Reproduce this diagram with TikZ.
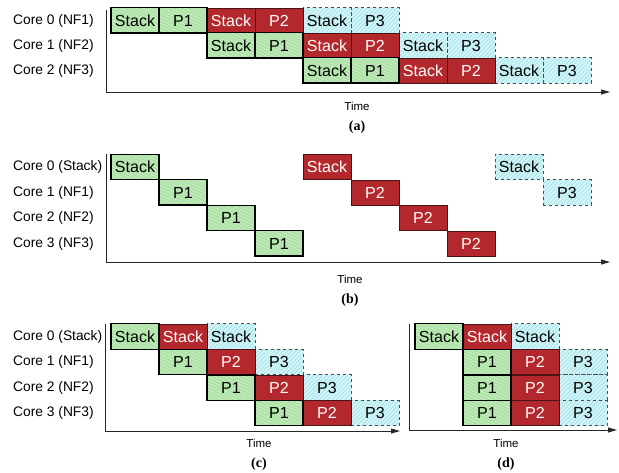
\documentclass[tikz,border=0pt]{standalone}
\usepackage{fontspec}
\setmainfont{Liberation Sans}
\newfontfamily\capfont{Liberation Serif}
\usetikzlibrary{arrows.meta,patterns.meta}
\definecolor{grfill}{HTML}{BCEAB4}
\definecolor{grhatch}{HTML}{A3D89E}
\definecolor{rdfill}{HTML}{B3282D}
\definecolor{rdline}{HTML}{4A1414}
\definecolor{cyfill}{HTML}{CFF6F8}
\definecolor{cyhatch}{HTML}{A6DCE6}
\tikzset{
  box/.style={minimum width=48pt,minimum height=25.3pt,inner sep=0pt,
    font=\fontsize{16}{16}\selectfont},
  gbox/.style={box,preaction={fill=grfill},draw=black,line width=1.3pt,
    pattern={Lines[angle=-25,distance=3pt,line width=0.6pt]},pattern color=grhatch},
  rbox/.style={box,draw=rdline,line width=0.6pt,fill=rdfill,text=white},
  cbox/.style={box,preaction={fill=cyfill},draw=black!70,dashed,line width=0.8pt,
    pattern={Lines[angle=45,distance=3pt,line width=0.6pt]},pattern color=cyhatch},
  corelab/.style={anchor=west,inner sep=0pt,font=\fontsize{13.8}{14}\selectfont},
  timelab/.style={inner sep=0pt,font=\fontsize{11.5}{12}\selectfont},
  panlab/.style={inner sep=0pt,font=\capfont\bfseries\fontsize{14}{14}\selectfont},
  axis/.style={line width=0.9pt,draw=black!85},
  axarrow/.style={axis,-{Triangle[length=9pt,width=5pt]}}
}
\begin{document}
\begin{tikzpicture}[x=1pt,y=-1pt]
\useasboundingbox (0,0) rectangle (619,473);
% ---------- (a) ----------
\node[corelab] (la0) at (13,20.5) {Core 0 (NF1)};
\node[corelab] (la1) at (13,45.5) {Core 1 (NF2)};
\node[corelab] (la2) at (13,70.5) {Core 2 (NF3)};
\coordinate (aT) at (106,10);
\coordinate (aO) at (106,92);
\coordinate (aE) at (610,92);
\draw[axis] (aT) -- (aO);
\draw[axarrow] (aO) -- (aE);
\node[cbox] (a05) at (375,20.5) {P3};
\node[cbox] (a04) at (327,20.5) {Stack};
\node[cbox] (a15) at (471,45.5) {P3};
\node[cbox] (a14) at (423,45.5) {Stack};
\node[cbox] (a25) at (567,70.5) {P3};
\node[cbox] (a24) at (519,70.5) {Stack};
\node[rbox] (a02) at (231,20.5) {Stack};
\node[rbox] (a03) at (279,20.5) {P2};
\node[rbox] (a12) at (327,45.5) {Stack};
\node[rbox] (a13) at (375,45.5) {P2};
\node[rbox] (a22) at (423,70.5) {Stack};
\node[rbox] (a23) at (471,70.5) {P2};
\node[gbox] (a00) at (135,20.5) {Stack};
\node[gbox] (a01) at (183,20.5) {P1};
\node[gbox] (a10) at (231,45.5) {Stack};
\node[gbox] (a11) at (279,45.5) {P1};
\node[gbox] (a20) at (327,70.5) {Stack};
\node[gbox] (a21) at (375,70.5) {P1};
\node[timelab] (ta) at (357,106) {Time};
\node[panlab] (pa) at (357,127) {(a)};
% ---------- (b) ----------
\node[corelab] (lb0) at (13,167) {Core 0 (Stack)};
\node[corelab] (lb1) at (13,192.5) {Core 1 (NF1)};
\node[corelab] (lb2) at (13,218) {Core 2 (NF2)};
\node[corelab] (lb3) at (13,243.5) {Core 3 (NF3)};
\coordinate (bT) at (106,154);
\coordinate (bO) at (106,262);
\coordinate (bE) at (610,262);
\draw[axis] (bT) -- (bO);
\draw[axarrow] (bO) -- (bE);
\node[cbox] (b08) at (519,167) {Stack};
\node[cbox] (b19) at (567,192.5) {P3};
\node[rbox] (b04) at (327,167) {Stack};
\node[rbox] (b15) at (375,192.5) {P2};
\node[rbox] (b26) at (423,218) {P2};
\node[rbox] (b37) at (471,243.5) {P2};
\node[gbox] (b00) at (135,167) {Stack};
\node[gbox] (b11) at (183,192.5) {P1};
\node[gbox] (b22) at (231,218) {P1};
\node[gbox] (b33) at (279,243.5) {P1};
\node[timelab] (tb) at (350,279) {Time};
\node[panlab] (pb) at (350,300) {(b)};
% ---------- (c) ----------
\node[corelab] (lc0) at (13,336.5) {Core 0 (Stack)};
\node[corelab] (lc1) at (13,362) {Core 1 (NF1)};
\node[corelab] (lc2) at (13,387.5) {Core 2 (NF2)};
\node[corelab] (lc3) at (13,413) {Core 3 (NF3)};
\coordinate (cT) at (105,324);
\coordinate (cO) at (105,431);
\coordinate (cE) at (400,431);
\draw[axis] (cT) -- (cO);
\draw[axarrow] (cO) -- (cE);
\node[cbox] (c02) at (231,336.5) {Stack};
\node[cbox] (c13) at (279,362) {P3};
\node[cbox] (c24) at (327,387.5) {P3};
\node[cbox] (c35) at (375,413) {P3};
\node[rbox] (c01) at (183,336.5) {Stack};
\node[rbox] (c12) at (231,362) {P2};
\node[rbox] (c23) at (279,387.5) {P2};
\node[rbox] (c34) at (327,413) {P2};
\node[gbox] (c00) at (135,336.5) {Stack};
\node[gbox] (c11) at (183,362) {P1};
\node[gbox] (c22) at (231,387.5) {P1};
\node[gbox] (c33) at (279,413) {P1};
\node[timelab] (tc) at (259,443) {Time};
\node[panlab] (pc) at (259,464) {(c)};
% ---------- (d) ----------
\coordinate (dT) at (409,324);
\coordinate (dO) at (409,430);
\coordinate (dE) at (617,430);
\draw[axis] (dT) -- (dO);
\draw[axarrow] (dO) -- (dE);
\node[cbox] (d02) at (535,336.5) {Stack};
\node[cbox] (d13) at (583,362) {P3};
\node[cbox] (d23) at (583,387.5) {P3};
\node[cbox] (d33) at (583,413) {P3};
\node[rbox] (d01) at (487,336.5) {Stack};
\node[rbox] (d12) at (535,362) {P2};
\node[rbox] (d22) at (535,387.5) {P2};
\node[rbox] (d32) at (535,413) {P2};
\node[gbox] (d00) at (439,336.5) {Stack};
\node[gbox] (d11) at (487,362) {P1};
\node[gbox] (d21) at (487,387.5) {P1};
\node[gbox] (d31) at (487,413) {P1};
\node[timelab] (td) at (506,443) {Time};
\node[panlab] (pd) at (506,464) {(d)};
\end{tikzpicture}
\end{document}
